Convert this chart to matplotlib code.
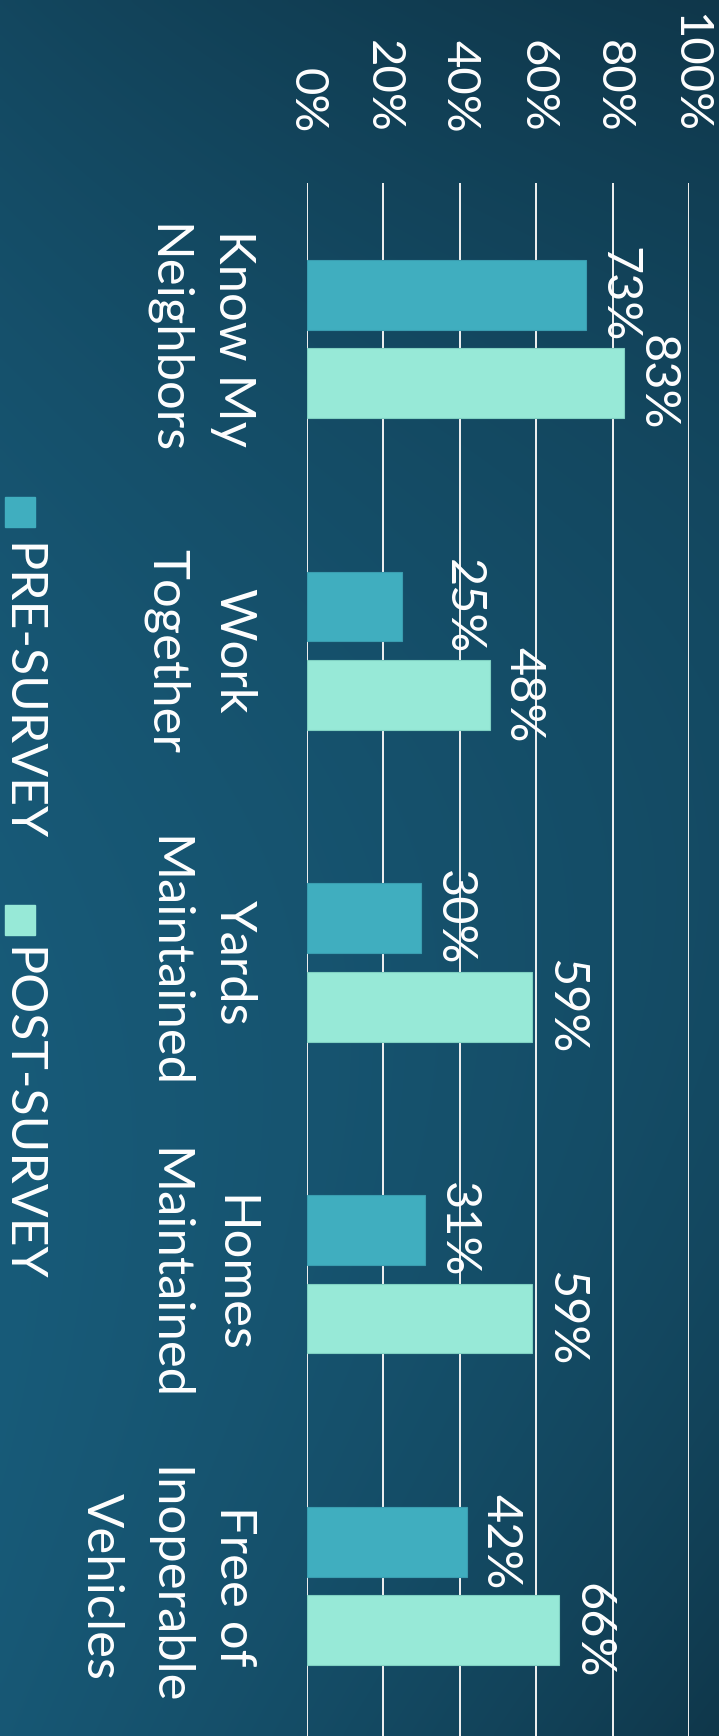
import numpy as np
import matplotlib
matplotlib.use("Agg")
import matplotlib.pyplot as plt
from matplotlib.patches import Rectangle

plt.rcParams['font.family'] = ['Lato', 'DejaVu Sans']

# survey results, percent of respondents
categories = ["Know My\nNeighbors", "Work\nTogether", "Yards\nMaintained",
              "Homes\nMaintained", "Free of\nInoperable\nVehicles"]
pre_survey = [73, 25, 30, 31, 42]
post_survey = [83, 48, 59, 59, 66]
series_names = ["PRE-SURVEY", "POST-SURVEY"]
x_ticks = [0, 20, 40, 60, 80, 100]
x_tick_labels = ["0%", "20%", "40%", "60%", "80%", "100%"]

PRE_COLOR = "#40aebf"
POST_COLOR = "#97e9d7"
W, H = 719, 1736

fig = plt.figure(figsize=(W / 100, H / 100), dpi=100)

# background gradient, light on the left middle, darker to the right/top
bg = fig.add_axes([0, 0, 1, 1], zorder=-10)
xx, yy = np.meshgrid(np.linspace(0, 1, 200), np.linspace(0, 1, 400))
t = 0.4 * xx + (1.0 + 0.9 * xx) * (yy - (0.7 - 0.2 * xx)) ** 2
t = np.clip(t, 0, 1)[..., None]
light = np.array([24, 91, 121]) / 255
dark = np.array([14, 50, 68]) / 255
bg.imshow(light * (1 - t) + dark * t, aspect="auto", extent=[0, 1, 1, 0], interpolation="bilinear")
bg.set_axis_off()

# the whole chart is turned a quarter clockwise, so it is drawn as a horizontal bar chart
ax = fig.add_axes([306.5 / W, 1 - 183 / H - 1559 / H, 382.5 / W, 1559 / H])
ax.patch.set_alpha(0)

y = np.arange(len(categories))
off = 0.142
bw = 0.224
b1 = ax.barh(y - off, pre_survey, height=bw, color=PRE_COLOR, edgecolor="#3a9db0", linewidth=0.8, zorder=3)
b2 = ax.barh(y + off, post_survey, height=bw, color=POST_COLOR, edgecolor="#7fd0c2", linewidth=0.8, zorder=3)

pre_lbls = ax.bar_label(b1, labels=[f"{v}%" for v in pre_survey], padding=8,
                        rotation=270, color="white", fontsize=35)
ax.bar_label(b2, labels=[f"{v}%" for v in post_survey], padding=8,
             rotation=270, color="white", fontsize=35)
# the 25% label sits a bit further out in the original
pre_lbls[1].xyann = (28, 0)

ax.set_xlim(0, 100)
ax.set_ylim(4.5, -0.5)
ax.xaxis.tick_top()
ax.set_xticks(x_ticks, x_tick_labels)
ax.set_yticks(y, categories, va="center", ha="right", multialignment="center", linespacing=1.55)
ax.tick_params(axis="x", length=0, pad=36, labelsize=34, labelcolor="white", labelrotation=270)
ax.tick_params(axis="y", length=0, pad=36, labelsize=36.5, labelcolor="white", labelrotation=270)
for lbl in ax.get_yticklabels():
    lbl.set_rotation_mode("default")
ax.grid(axis="x", color="#f2f2f2", linewidth=1.4, zorder=0)
for s in ax.spines.values():
    s.set_visible(False)

# legend, drawn by hand since it is turned too
legend_items = [(series_names[0], PRE_COLOR, 497, 543), (series_names[1], POST_COLOR, 905, 947)]
for name, col, sq_top, txt_top in legend_items:
    fig.add_artist(Rectangle((5 / W, 1 - (sq_top + 30) / H), 30 / W, 30 / H,
                             transform=fig.transFigure, color=col))
    fig.text(6 / W, 1 - txt_top / H, name, rotation=270, rotation_mode="anchor",
             ha="left", va="baseline", color="white", fontsize=36)

fig.savefig("out.png", dpi=100)
